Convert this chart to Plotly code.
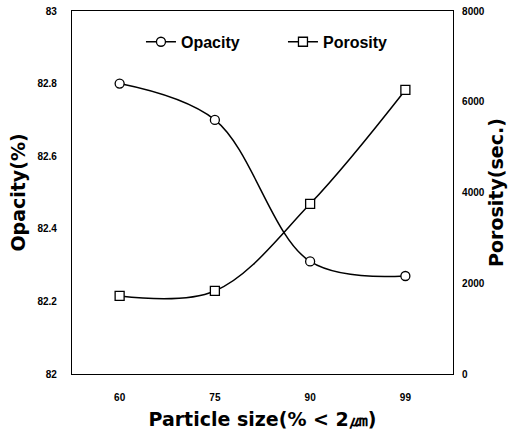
import plotly.graph_objects as go

particle_size = ["60", "75", "90", "99"]
opacity = [82.80, 82.70, 82.31, 82.27]
porosity = [1720, 1830, 3750, 6260]

left_ticks = [82, 82.2, 82.4, 82.6, 82.8, 83]
left_ticktext = ["82", "82.2", "82.4", "82.6", "82.8", "83"]
right_ticks = [0, 2000, 4000, 6000, 8000]
right_ticktext = ["0", "2000", "4000", "6000", "8000"]

FONT = "Liberation Sans, Arial, sans-serif"
TFONT = "DejaVu Sans, Liberation Sans, sans-serif"

fig = go.Figure()
fig.add_trace(go.Scatter(
    x=particle_size, y=opacity, name="Opacity", mode="lines+markers",
    line=dict(color="black", width=1.5, shape="spline", smoothing=1),
    marker=dict(symbol="circle", size=9, color="white", line=dict(color="black", width=1.3)),
    yaxis="y"))
fig.add_trace(go.Scatter(
    x=particle_size, y=porosity, name="Porosity", mode="lines+markers",
    line=dict(color="black", width=1.5, shape="spline", smoothing=1),
    marker=dict(symbol="square", size=9, color="white", line=dict(color="black", width=1.3)),
    yaxis="y2"))

fig.update_layout(
    width=520, height=442,
    margin=dict(l=72, r=67, t=11, b=68, autoexpand=False),
    paper_bgcolor="white", plot_bgcolor="white",
    font=dict(family=FONT, color="black"),
    showlegend=True,
    legend=dict(orientation="h", x=0.181, y=0.915, xanchor="left", yanchor="middle",
                font=dict(family=FONT, size=16, weight="bold"),
                bgcolor="rgba(0,0,0,0)", entrywidth=97, entrywidthmode="pixels"),
    xaxis=dict(type="category", range=[-0.5, 3.5], showgrid=False, zeroline=False,
               showline=True, linecolor="black", linewidth=1.2, mirror=True,
               ticks="", ticklabelstandoff=14,
               tickfont=dict(family=FONT, size=10, weight="bold"),
               title=dict(text="Particle size(% < 2㎛)", standoff=10,
                          font=dict(family=TFONT, size=19, weight="bold"))),
    yaxis=dict(range=[82, 83], tickvals=left_ticks, ticktext=left_ticktext,
               showgrid=False, zeroline=False, showline=True, linecolor="black", linewidth=1.2,
               ticks="", ticklabelstandoff=12,
               tickfont=dict(family=FONT, size=10, weight="bold"),
               title=dict(text="Opacity(%)", standoff=6,
                          font=dict(family=TFONT, size=19, weight="bold"))),
    yaxis2=dict(range=[0, 8000], tickvals=right_ticks, ticktext=right_ticktext,
                overlaying="y", side="right",
                showgrid=False, zeroline=False, showline=True, linecolor="black", linewidth=1.2,
                ticks="", ticklabelstandoff=6,
                tickfont=dict(family=FONT, size=10, weight="bold"),
                title=dict(text="Porosity(sec.)", standoff=0,
                           font=dict(family=TFONT, size=19, weight="bold"))),
)

fig.write_html("out.html", config={"displayModeBar": False},
               post_script="document.body.style.margin='0px';")
